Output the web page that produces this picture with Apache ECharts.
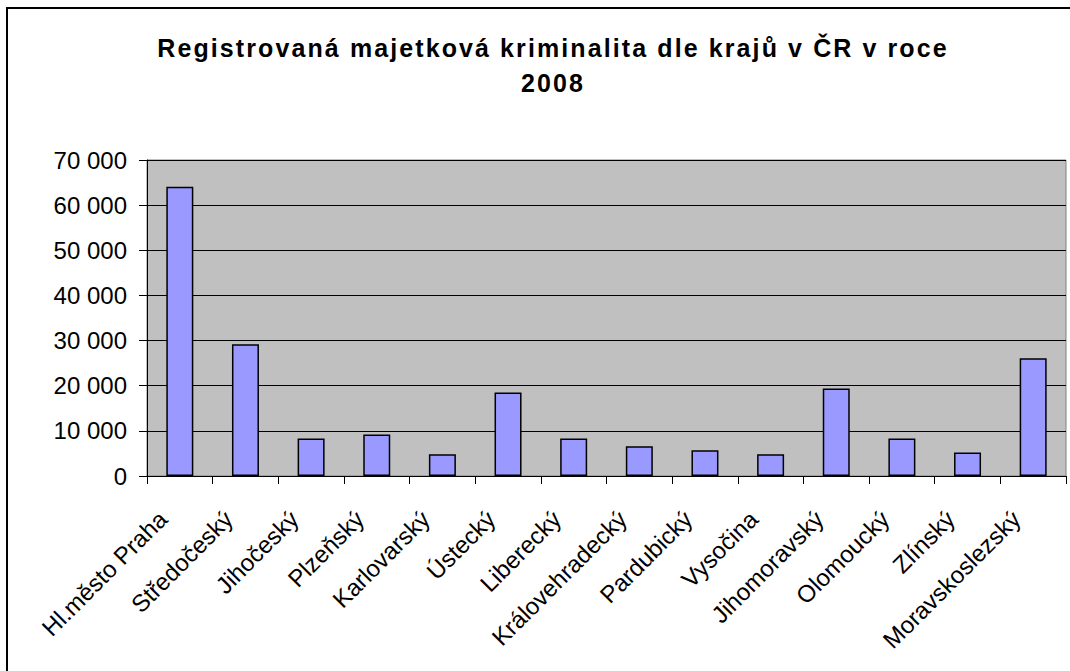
<!DOCTYPE html>
<html><head><meta charset="utf-8">
<script src="https://cdn.jsdelivr.net/npm/echarts@6/dist/echarts.min.js"></script>
<style>html,body{margin:0;padding:0;background:#fff}#c{width:1070px;height:671px}
#c text[style*="bold"]{letter-spacing:2.1px}</style>
</head><body><div id="c"></div>
<script>
const categories = ["Hl.město Praha","Středočeský","Jihočeský","Plzeňský","Karlovarský","Ústecký","Liberecký","Královehradecký","Pardubický","Vysočina","Jihomoravský","Olomoucký","Zlínský","Moravskoslezský"];
const values = [64100,29200,8300,9200,4800,18500,8300,6600,5700,4800,19400,8300,5200,26100];
const titleLines = ["Registrovaná majetková kriminalita dle krajů v ČR v roce","2008"];

const chart = echarts.init(document.getElementById('c'), null, {renderer:'svg'});
const font = '"Liberation Sans", Arial, sans-serif';
chart.setOption({
  animation:false,
  backgroundColor:'#fff',
  graphic:[
    {type:'rect', shape:{x:7,y:8,width:1200,height:800}, style:{fill:'none',stroke:'#000',lineWidth:2}, z:0}
  ],
  title:{text:titleLines.join('\n'), left:548, top:25, textAlign:'center',
    textStyle:{fontFamily:font,fontSize:25,fontWeight:'bold',color:'#000',lineHeight:35}},
  grid:{left:147, top:160, right:4, bottom:195, show:true, backgroundColor:'#C0C0C0', borderColor:'#808080', borderWidth:1},
  xAxis:{type:'category', data:categories,
    axisLine:{lineStyle:{color:'#000',width:1}},
    axisTick:{show:true,length:8,lineStyle:{color:'#000'}},
    axisLabel:{rotate:45, interval:0, margin:22, padding:[0,24,0,0], color:'#000', fontFamily:font, fontSize:24}
  },
  yAxis:{type:'value', min:0, max:70000, interval:10000,
    axisLine:{show:true,lineStyle:{color:'#000',width:1}},
    axisTick:{show:true,length:8,lineStyle:{color:'#000'}},
    splitLine:{lineStyle:{color:'#000',width:1}},
    axisLabel:{margin:20, color:'#000', fontFamily:font, fontSize:24,
      formatter:v=>String(v).replace(/\B(?=(\d{3})+(?!\d))/g,' ')}
  },
  series:[{type:'bar', data:values, barWidth:27,
    itemStyle:{color:'#9999FF', borderColor:'#000', borderWidth:1.5}}]
});
</script></body></html>
